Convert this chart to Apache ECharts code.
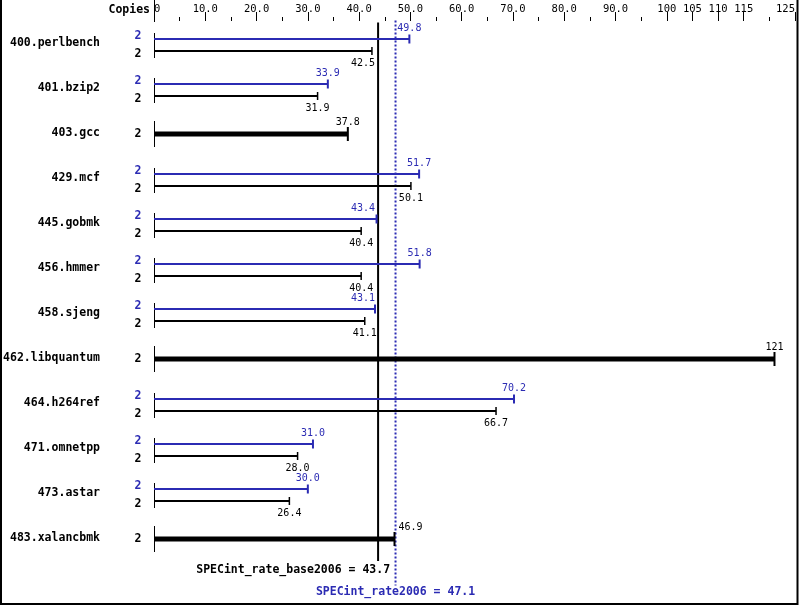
<!DOCTYPE html>
<html><head><meta charset="utf-8">
<script src="https://cdn.jsdelivr.net/npm/echarts@6/dist/echarts.min.js"></script>
<style>html,body{margin:0;padding:0;background:#fff}#c{width:799px;height:606px}</style>
</head><body><div id="c"></div>
<script>
const benchmarks = ['400.perlbench','401.bzip2','403.gcc','429.mcf','445.gobmk','456.hmmer','458.sjeng','462.libquantum','464.h264ref','471.omnetpp','473.astar','483.xalancbmk'];
const baseCopies = [2,2,2,2,2,2,2,2,2,2,2,2];
const peakCopies = [2,2,null,2,2,2,2,null,2,2,2,null];
const baseValues = [42.5,31.9,37.8,50.1,40.4,40.4,41.1,121,66.7,28.0,26.4,46.9];
const peakValues = [49.8,33.9,null,51.7,43.4,51.8,43.1,null,70.2,31.0,30.0,null];
const baseMean = 43.7;
const peakMean = 47.1;
const baseMeanName = 'SPECint_rate_base2006';
const peakMeanName = 'SPECint_rate2006';
const majorTicks = [0,10,20,30,40,50,60,70,80,90,100,105,110,115,125];
const majorTickLabels = ['0','10.0','20.0','30.0','40.0','50.0','60.0','70.0','80.0','90.0','100','105','110','115','125'];
const minorTicks = [5,15,25,35,45,55,65,75,85,95,120];

const BLUE = '#2b2bb3';
const BLACK = '#000';
const MONO = '"DejaVu Sans Mono", "Liberation Mono", monospace';

function fmt(v){ return v >= 100 ? String(Math.round(v)) : v.toFixed(1); }

function placeLabel(cx, text, lines){
  const w = text.length * 6.02;
  const overlaps = (c) => lines.some(L => L > c - w/2 - 1 && L < c + w/2 + 1);
  if (!overlaps(cx)) return cx;
  const cands = [];
  lines.forEach(L => { cands.push(L - 3 - w/2); cands.push(L + 3 + w/2); });
  let best = cx, bd = Infinity;
  cands.forEach(c => { if (!overlaps(c) && Math.abs(c - cx) < bd) { bd = Math.abs(c - cx); best = c; } });
  return best;
}

const chart = echarts.init(document.getElementById('c'), null, {renderer: 'canvas'});

function lineEl(x1,y1,x2,y2,color,w,dash){
  return {type:'line', shape:{x1,y1,x2,y2}, style:{stroke:color, lineWidth:w, lineDash:dash||null}};
}
function textEl(x,y,text,color,align,size,weight){
  return {type:'text', x, y, style:{text, fill:color, align:align, verticalAlign:'middle',
    font:(weight||'normal')+' '+size+'px '+MONO}};
}
function crisp(x){ return Math.round(x) + 0.5; }

function renderRow(params, api){
  const i = params.dataIndex;
  const base = baseValues[i], peak = peakValues[i];
  const p0 = api.coord([0, i]);
  const x0 = p0[0], yc = Math.round(p0[1]);
  const lines = [api.coord([baseMean, i])[0], api.coord([peakMean, i])[0]];
  const ch = [];
  const xb = api.coord([base, i])[0];
  if (peak == null) {
    ch.push(lineEl(crisp(x0), yc-13, crisp(x0), yc+13, BLACK, 1));
    ch.push(lineEl(x0, yc, xb, yc, BLACK, 5));
    ch.push(lineEl(xb, yc-7, xb, yc+7, BLACK, 2));
    const t = fmt(base);
    ch.push(textEl(placeLabel(xb, t, lines), yc-12, t, BLACK, 'center', 10));
    ch.push(textEl(x0-16, yc, String(baseCopies[i]), BLACK, 'center', 11.5, 'bold'));
  } else {
    const xp = api.coord([peak, i])[0];
    const yp = yc - 5, yb = yc + 7;
    ch.push(lineEl(crisp(x0), yc-11, crisp(x0), yc+14, BLACK, 1));
    ch.push(lineEl(x0, yp, xp, yp, BLUE, 2));
    ch.push(lineEl(xp, yp-4.5, xp, yp+4.5, BLUE, 2));
    ch.push(lineEl(x0, yb, xb, yb, BLACK, 2));
    ch.push(lineEl(xb, yb-4, xb, yb+4, BLACK, 1.5));
    const tp = fmt(peak), tb = fmt(base);
    ch.push(textEl(placeLabel(xp, tp, lines), yp-11, tp, BLUE, 'center', 10));
    ch.push(textEl(placeLabel(xb, tb, lines), yb+12, tb, BLACK, 'center', 10));
    ch.push(textEl(x0-16, yc-8, String(peakCopies[i]), BLUE, 'center', 11.5, 'bold'));
    ch.push(textEl(x0-16, yc+10, String(baseCopies[i]), BLACK, 'center', 11.5, 'bold'));
  }
  return {type:'group', children: ch};
}

function renderMeans(params, api){
  const cs = params.coordSys;
  const top = cs.y, bottom = cs.y + cs.height;
  const xb = api.coord([api.value(0), 0])[0];
  const xp = api.coord([api.value(1), 0])[0];
  const x0 = api.coord([0, 0])[0];
  return {type:'group', children:[
    lineEl(crisp(x0), 0, crisp(x0), top + 1, BLACK, 1),
    lineEl(xb, top+1.5, xb, bottom, BLACK, 2),
    lineEl(xp, top-0.5, xp, bottom+24.5, BLUE, 2, [2,2]),
    textEl(xb+12, bottom+9.5, baseMeanName + ' = ' + api.value(0).toFixed(1), BLACK, 'right', 11.5, 'bold'),
    textEl(xp, bottom+31.5, peakMeanName + ' = ' + api.value(1).toFixed(1), BLUE, 'center', 11.5, 'bold')
  ]};
}

const xCommon = {
  type:'value', min:0, max:125, position:'top', offset:0,
  axisLine:{show:false}, splitLine:{show:false}
};

chart.setOption({
  animation:false,
  backgroundColor:'#fff',
  grid:{left:154, right:4, top:21, height:540},
  xAxis:[
    Object.assign({}, xCommon, {
      axisTick:{show:true, length:9, inside:false, customValues:majorTicks, lineStyle:{color:BLACK, width:1}},
      axisLabel:{show:true, customValues:majorTicks, margin:6, color:BLACK, fontFamily:MONO, fontSize:10.5,
        alignMinLabel:'left', alignMaxLabel:'right',
        formatter:(v)=>{ const k = majorTicks.indexOf(v); return k >= 0 ? majorTickLabels[k] : ''; }}
    }),
    Object.assign({}, xCommon, {
      axisTick:{show:true, length:4, customValues:minorTicks, lineStyle:{color:BLACK, width:1}},
      axisLabel:{show:false}
    })
  ],
  yAxis:{
    type:'category', data:benchmarks, inverse:true,
    axisLine:{show:false}, axisTick:{show:false}, splitLine:{show:false},
    axisLabel:{margin:54, color:BLACK, fontFamily:MONO, fontSize:11.5, fontWeight:'bold'}
  },
  graphic:[
    {type:'polyline', shape:{points:[[1,0],[1,604],[797.5,604],[797.5,0]]}, style:{stroke:BLACK, lineWidth:2, fill:null}, z:100},
    {type:'text', x:150, y:10, style:{text:'Copies', fill:BLACK, align:'right', verticalAlign:'middle', font:'bold 11.5px '+MONO}}
  ],
  series:[
    {type:'custom', name:'means', xAxisIndex:0, yAxisIndex:0, z:1, clip:false,
      data:[[baseMean, peakMean]], renderItem:renderMeans},
    {type:'custom', name:'rows', xAxisIndex:0, yAxisIndex:0, z:2, clip:false,
      data:benchmarks.map((b,i)=>[baseValues[i], i]), renderItem:renderRow}
  ]
});
</script></body></html>
